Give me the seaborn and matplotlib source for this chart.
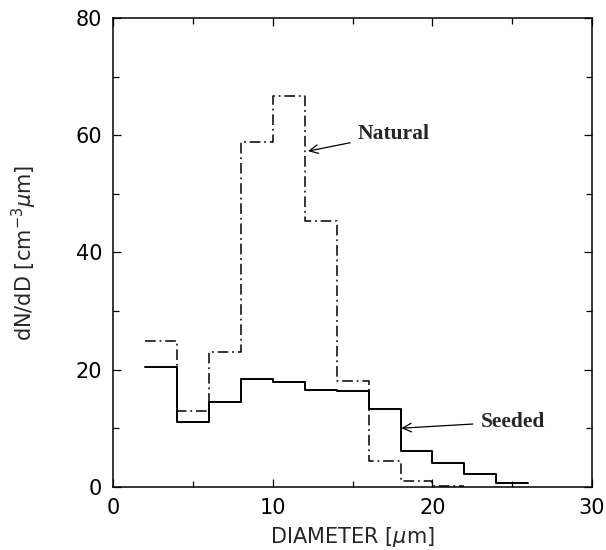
"""
Droplet size distribution, natural vs seeded cloud.
Step histogram of dN/dD against diameter.
"""

import numpy as np
import matplotlib
matplotlib.use("Agg")
import matplotlib.pyplot as plt
import seaborn as sns

# --------------------------------------------------------
# Data
# --------------------------------------------------------

natural_edges = [2, 4, 6, 8, 10, 12, 14, 16, 18, 20, 22]
natural_values = [24.9, 13.0, 23.0, 58.8, 66.7, 45.4, 18.0, 4.4, 1.0, 0.2]

seeded_edges = [2, 4, 6, 8, 10, 12, 14, 16, 18, 20, 22, 24, 26]
seeded_values = [20.4, 11.1, 14.4, 18.4, 17.8, 16.5, 16.3, 13.2, 6.1, 4.1, 2.1, 0.7]

x_ticks = [0, 10, 20, 30]
y_ticks = [0, 20, 40, 60, 80]

# --------------------------------------------------------
# Global settings
# --------------------------------------------------------

sns.set_theme(style="ticks")
plt.rcParams["font.family"] = ["DejaVu Sans"]
plt.rcParams["mathtext.fontset"] = "dejavusans"

FIGURE_SIZE = (6.06, 5.5)
IMAGE_DPI = 100


def centers(edges):
    e = np.asarray(edges, dtype=float)
    return (e[:-1] + e[1:]) / 2


fig = plt.figure(figsize=FIGURE_SIZE, dpi=IMAGE_DPI)
ax = fig.add_axes([0.187, 0.115, 0.79, 0.852])

sns.histplot(
    x=centers(natural_edges),
    weights=natural_values,
    bins=natural_edges,
    element="step",
    fill=False,
    color="black",
    linewidth=1.1,
    linestyle=(0, (7, 2.5, 1.2, 2.5)),
    ax=ax
)

sns.histplot(
    x=centers(seeded_edges),
    weights=seeded_values,
    bins=seeded_edges,
    element="step",
    fill=False,
    color="black",
    linewidth=1.4,
    ax=ax
)

ax.set_xlim(0, 30)
ax.set_ylim(0, 80)

ax.set_xticks(x_ticks)
ax.set_xticks(np.arange(0, 31, 5), minor=True)
ax.set_yticks(y_ticks)
ax.set_yticks(np.arange(0, 81, 10), minor=True)

ax.tick_params(
    which="both",
    direction="in",
    top=True,
    right=True,
    labelsize=15,
    pad=8,
    width=0.9,
    colors="black"
)
ax.tick_params(which="major", length=6)
ax.tick_params(which="minor", length=4)

for spine in ax.spines.values():
    spine.set_linewidth(1.1)
    spine.set_color("black")

ax.set_xlabel("DIAMETER [$\\mu$m]", fontsize=15, labelpad=5)
ax.set_ylabel("dN/dD [cm$^{-3}$$\\mu$m]", fontsize=15, labelpad=26)

ax.annotate(
    "Natural",
    xy=(12.2, 57.3),
    xytext=(15.3, 60.2),
    fontsize=15.5,
    fontweight="bold",
    family="Liberation Serif",
    va="center",
    ha="left",
    arrowprops=dict(arrowstyle="->", color="black", linewidth=0.9,
                    shrinkA=3, shrinkB=0)
)

ax.annotate(
    "Seeded",
    xy=(18.05, 10.0),
    xytext=(23.0, 11.1),
    fontsize=15.5,
    fontweight="bold",
    family="Liberation Serif",
    va="center",
    ha="left",
    arrowprops=dict(arrowstyle="->", color="black", linewidth=0.9,
                    shrinkA=3, shrinkB=0)
)

plt.savefig("out.png", dpi=IMAGE_DPI)
plt.close()
